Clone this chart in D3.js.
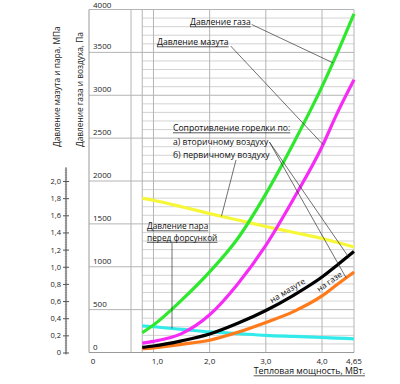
<!DOCTYPE html>
<html>
<head>
<meta charset="utf-8">
<script src="https://cdn.jsdelivr.net/npm/d3@7.9.0/dist/d3.min.js"></script>
<style>
  body { margin: 0; background: #fff; }
  svg { display: block; font-family: "Open Sans", "Noto Sans", sans-serif; }
</style>
</head>
<body>
<svg id="chart" width="400" height="384"></svg>
<script>
// Тепловая мощность, МВт
const powerMW = [0.8, 1.0, 1.5, 2.0, 2.5, 3.0, 3.5, 4.0, 4.3, 4.65];

// Давление газа, Па
const gasPressure = [230, 320, 610, 940, 1330, 1850, 2450, 3100, 3480, 3950];
// Давление мазута, МПа
const oilPressure = [0.11, 0.13, 0.22, 0.44, 0.80, 1.25, 1.80, 2.40, 2.78, 3.18];
// Давление пара перед форсункой, МПа
const steamPressure = [0.31, 0.30, 0.27, 0.24, 0.22, 0.20, 0.187, 0.175, 0.168, 0.16];
// Сопротивление горелки по первичному воздуху, Па
const primaryAir = [1800, 1775, 1700, 1620, 1545, 1470, 1400, 1330, 1285, 1230];
// Сопротивление по вторичному воздуху на мазуте / на газе, Па
const secondaryAirOil = [60, 76, 136, 215, 340, 490, 670, 880, 1015, 1178];
const secondaryAirGas = [45, 55, 95, 143, 235, 350, 480, 660, 790, 938];

// tick labels
const xTicks = [0, 1.0, 2.0, 3.0, 4.0, 4.65];
const xGrid = [0.6, 0.8, 1.0, 2.0, 3.0, 4.0, 4.65];
const paTicks = [0, 500, 1000, 1500, 2000, 2500, 3000, 3500, 4000];
const mpaTicks = [0, 0.2, 0.4, 0.6, 0.8, 1.0, 1.2, 1.4, 1.6, 1.8, 2.0];

const svg = d3.select('#chart');

// axis 0..0.6 is compressed (broken axis)
const x = d3.scaleLinear().domain([0, 0.6, 4.0, 4.65]).range([89, 131, 322, 354]);
const yPa = d3.scaleLinear().domain([0, 4000]).range([352.5, 9.5]);
const yMPa = d3.scaleLinear().domain([0, 4]).range([352.5, 9.5]);

const fmt1 = v => v === 0 ? '0' : d3.format('.1f')(v).replace('.', ',');
const fmtX = v => v === 0 ? '0' : (v === 4.65 ? '4,65' : fmt1(v));

// --- grid ---
const grid = svg.append('g');
grid.selectAll('line.minor')
  .data(d3.range(100, 4000, 100).filter(v => v % 500 !== 0))
  .join('line')
  .attr('x1', x(0.8)).attr('x2', x(4.65))
  .attr('y1', d => yPa(d)).attr('y2', d => yPa(d))
  .attr('stroke', '#c8c8c8').attr('stroke-width', 0.8);
grid.selectAll('line.major')
  .data(paTicks.slice(1))
  .join('line')
  .attr('x1', x(0)).attr('x2', x(4.65))
  .attr('y1', d => yPa(d)).attr('y2', d => yPa(d))
  .attr('stroke', '#b4b4b4').attr('stroke-width', 1);
grid.selectAll('line.vert')
  .data(xGrid)
  .join('line')
  .attr('x1', d => x(d)).attr('x2', d => x(d))
  .attr('y1', yPa(4000)).attr('y2', yPa(0))
  .attr('stroke', '#b4b4b4').attr('stroke-width', 1);
// frame left + bottom
svg.append('path')
  .attr('d', `M${x(0)},${yPa(4000)}V${yPa(0)}H${x(4.65)}`)
  .attr('fill', 'none').attr('stroke', '#999').attr('stroke-width', 1);

// --- Pa labels inside plot ---
svg.append('g').selectAll('text')
  .data(paTicks)
  .join('text')
  .attr('x', 93).attr('y', d => d === 4000 ? 8 : yPa(d) - 3)
  .attr('font-size', 8).attr('fill', '#222')
  .text(d => d);

// --- x tick labels ---
svg.append('g').selectAll('text')
  .data(xTicks)
  .join('text')
  .attr('x', d => d === 0 ? x(d) + 4 : x(d) + (d === 1 ? 4 : 0))
  .attr('y', 364)
  .attr('text-anchor', 'middle')
  .attr('font-size', 8).attr('fill', '#222')
  .text(fmtX);

// --- MPa axis ---
const mpaAxis = d3.axisLeft(yMPa).tickValues(mpaTicks).tickSize(3).tickPadding(2).tickFormat(fmt1);
const ag = svg.append('g').attr('transform', 'translate(66,0)').call(mpaAxis);
ag.select('.domain').remove();
ag.selectAll('.tick line').attr('x1', 3).attr('stroke', '#555');
ag.selectAll('.tick text').attr('font-size', 7.5).attr('fill', '#222')
  .attr('font-family', '"Open Sans", sans-serif');
ag.append('g').selectAll('line')
  .data(d3.range(0, 2.15, 0.02))
  .join('line')
  .attr('x1', -1.2).attr('x2', 1.2)
  .attr('y1', d => yMPa(d)).attr('y2', d => yMPa(d))
  .attr('stroke', '#777').attr('stroke-width', 0.5);
ag.append('line')
  .attr('x1', 0).attr('x2', 0)
  .attr('y1', yMPa(2.16)).attr('y2', yMPa(0) + 2)
  .attr('stroke', '#555').attr('stroke-width', 1);

// --- axis titles ---
svg.append('text')
  .attr('transform', 'translate(60,147) rotate(-90)')
  .attr('text-anchor', 'start').attr('font-size', 8.3).attr('fill', '#222')
  .text('Давление мазута и пара, МПа');
svg.append('text')
  .attr('transform', 'translate(83,147) rotate(-90)')
  .attr('text-anchor', 'start').attr('font-size', 8.3).attr('fill', '#222')
  .text('Давление газа и воздуха, Па');

function label(txt, tx, ty, underline, size = 8.6, anchor = 'start') {
  const t = svg.append('text')
    .attr('x', tx).attr('y', ty)
    .attr('text-anchor', anchor)
    .attr('font-size', size).attr('fill', '#111')
    .text(txt);
  const w = t.node().getComputedTextLength();
  if (underline) {
    const x0 = anchor === 'end' ? tx - w : tx;
    svg.append('line')
      .attr('x1', x0).attr('x2', x0 + w)
      .attr('y1', ty + 1.8).attr('y2', ty + 1.8)
      .attr('stroke', '#111').attr('stroke-width', 0.7);
  }
  return w;
}

label('Тепловая мощность, МВт.', 365, 374, true, 8.8, 'end');

// --- curves ---
const line = d3.line()
  .x(d => x(d[0]))
  .y(d => d[1])
  .curve(d3.curveMonotoneX);

const series = [
  { vals: primaryAir, scale: yPa, color: '#f7f73a' },
  { vals: steamPressure, scale: yMPa, color: '#33eaea' },
  { vals: secondaryAirGas, scale: yPa, color: '#ff7a1a' },
  { vals: secondaryAirOil, scale: yPa, color: '#000000' },
  { vals: oilPressure, scale: yMPa, color: '#f52cf5' },
  { vals: gasPressure, scale: yPa, color: '#2ee82e' }
];

svg.append('g').selectAll('path')
  .data(series)
  .join('path')
  .attr('d', s => line(powerMW.map((p, i) => [p, s.scale(s.vals[i])])))
  .attr('fill', 'none')
  .attr('stroke', s => s.color)
  .attr('stroke-width', 3.2)
  .attr('stroke-linecap', 'butt');

// value on a series at a given power (linear between points)
function at(vals, p) {
  const i = Math.max(1, d3.bisectLeft(powerMW, p));
  const t = (p - powerMW[i - 1]) / (powerMW[i] - powerMW[i - 1]);
  return vals[i - 1] + t * (vals[i] - vals[i - 1]);
}

const leaders = svg.append('g').attr('stroke', '#333').attr('stroke-width', 0.7);
function leader(x1, y1, p, vals, scale) {
  leaders.append('line')
    .attr('x1', x1).attr('y1', y1)
    .attr('x2', x(p)).attr('y2', scale(at(vals, p)));
}

// --- annotations ---
const wGas = label('Давление газа', 190, 25, true);
leader(190 + wGas + 1, 24.5, 4.22, gasPressure, yPa);
const wOil = label('Давление мазута', 157, 45, true);
leader(157 + wOil + 2, 46, 4.02, oilPressure, yMPa);

label('Сопротивление горелки по:', 173, 131, true);
const wA = label('а) вторичному воздуху', 173, 145, false);
leader(173 + wA + 1, 142, 4.53, secondaryAirOil, yPa);
leader(173 + wA + 1, 142, 4.49, secondaryAirGas, yPa);
label('б) первичному воздуху', 173, 158, false);
leader(236, 160, 2.21, primaryAir, yPa);

label('Давление пара', 147, 229, true, 8.3);
label('перед форсункой', 147, 240.5, true, 8.3);
leader(x(1.33), 243, 1.33, steamPressure, yMPa);

svg.append('text')
  .attr('transform', 'translate(289,293) rotate(-31)')
  .attr('text-anchor', 'middle').attr('font-size', 8.3).attr('fill', '#111')
  .text('на мазуте');
svg.append('text')
  .attr('transform', 'translate(331,284) rotate(-35)')
  .attr('text-anchor', 'middle').attr('font-size', 8.3).attr('fill', '#111')
  .text('на газе');
</script>
</body>
</html>
